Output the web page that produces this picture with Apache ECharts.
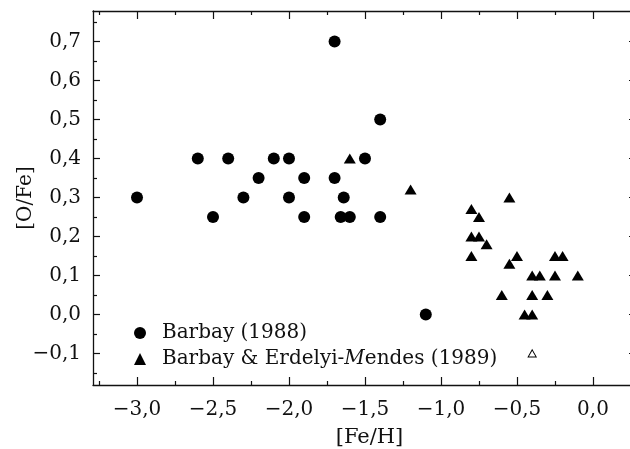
<!DOCTYPE html>
<html>
<head>
<meta charset="utf-8">
<script src="https://cdn.jsdelivr.net/npm/echarts@6/dist/echarts.min.js"></script>
<style>
  html, body { margin: 0; padding: 0; background: #fff; }
  #chart { width: 630px; height: 449px; }
</style>
</head>
<body>
<div id="chart"></div>
<script>
// [O/Fe] versus [Fe/H]
const barbay1988 = [
  [-3.0, 0.30],
  [-2.6, 0.40], [-2.4, 0.40], [-2.1, 0.40], [-2.0, 0.40], [-1.5, 0.40],
  [-2.2, 0.35], [-1.9, 0.35], [-1.7, 0.35],
  [-2.3, 0.30], [-2.0, 0.30], [-1.64, 0.30],
  [-2.5, 0.25], [-1.9, 0.25], [-1.66, 0.25], [-1.6, 0.25], [-1.4, 0.25],
  [-1.7, 0.70], [-1.4, 0.50],
  [-1.1, 0.00]
];

const barbayErdelyi1989 = [
  [-1.6, 0.40], [-1.2, 0.32], [-0.55, 0.30],
  [-0.8, 0.27], [-0.75, 0.25],
  [-0.8, 0.20], [-0.75, 0.20], [-0.7, 0.18],
  [-0.8, 0.15], [-0.5, 0.15], [-0.55, 0.13], [-0.25, 0.15], [-0.2, 0.15],
  [-0.4, 0.10], [-0.35, 0.10], [-0.25, 0.10], [-0.1, 0.10],
  [-0.6, 0.05], [-0.4, 0.05], [-0.3, 0.05],
  [-0.45, 0.00], [-0.4, 0.00]
];

// open (upper-limit style) point of the 1989 sample
const barbayErdelyiOpen = [[-0.4, -0.10]];

const xMajorTicks = [-3.0, -2.5, -2.0, -1.5, -1.0, -0.5, 0.0];
const xMinorTicks = [-3.25, -2.75, -2.25, -1.75, -1.25, -0.75, -0.25, 0.25];
const yMajorTicks = [-0.1, 0.0, 0.1, 0.2, 0.3, 0.4, 0.5, 0.6, 0.7];
const yMinorTicks = [-0.15, -0.05, 0.05, 0.15, 0.25, 0.35, 0.45, 0.55, 0.65, 0.75];

const seriesNames = ['Barbay (1988)', 'Barbay & Erdelyi-Mendes (1989)'];

const X_MIN = -3.2895, X_MAX = 0.283;
const Y_MIN = -0.181, Y_MAX = 0.778;

const FONT = 'DejaVu Serif';
const INK = '#111';

function fmt(v) {
  const s = Math.abs(v).toFixed(1).replace('.', ',');
  return (v < -1e-9 ? '\u2212' : '') + s;
}

function tickAxis(kind, position, values, len, opts) {
  const base = {
    type: 'value',
    position: position,
    min: kind === 'x' ? X_MIN : Y_MIN,
    max: kind === 'x' ? X_MAX : Y_MAX,
    splitLine: { show: false },
    axisLine: { show: !!(opts && opts.line), onZero: false,
                lineStyle: { color: INK, width: 1.3 } },
    axisTick: { show: true, inside: true, length: len, customValues: values,
                lineStyle: { color: INK, width: 1.2 } },
    axisLabel: { show: false },
    silent: true
  };
  return Object.assign(base, opts && opts.extra ? opts.extra : {});
}

const chart = echarts.init(document.getElementById('chart'), null, { renderer: 'canvas' });

const option = {
  backgroundColor: '#fff',
  animation: false,
  grid: { left: 93, top: 11, right: -6, bottom: 64, containLabel: false, outerBoundsMode: 'none' },
  xAxis: [
    tickAxis('x', 'bottom', xMajorTicks, 8, { line: true, extra: {
      name: '[Fe/H]',
      nameLocation: 'middle',
      nameGap: 42,
      nameMoveOverlap: false,
      nameTextStyle: { fontFamily: FONT, fontSize: 21, color: INK, padding: [0, 0, 0, 10] },
      axisLabel: { show: true, customValues: xMajorTicks, margin: 15,
                   fontFamily: FONT, fontSize: 20, color: INK, formatter: fmt }
    } }),
    tickAxis('x', 'bottom', xMinorTicks, 4),
    tickAxis('x', 'top', xMajorTicks, 8, { line: true }),
    tickAxis('x', 'top', xMinorTicks, 4)
  ],
  yAxis: [
    tickAxis('y', 'left', yMajorTicks, 7, { line: true, extra: {
      name: '[O/Fe]',
      nameLocation: 'middle',
      nameRotate: 90,
      nameGap: 57,
      nameMoveOverlap: false,
      nameTextStyle: { fontFamily: FONT, fontSize: 20, color: INK },
      axisLabel: { show: true, customValues: yMajorTicks, margin: 12,
                   fontFamily: FONT, fontSize: 20, color: INK, formatter: fmt }
    } }),
    tickAxis('y', 'left', yMinorTicks, 4),
    tickAxis('y', 'right', yMajorTicks, 7, { line: true }),
    tickAxis('y', 'right', yMinorTicks, 4)
  ],
  legend: {
    orient: 'vertical',
    left: 129,
    top: 318,
    itemWidth: 12,
    itemHeight: 12,
    itemGap: 6,
    data: [
      { name: seriesNames[0], icon: 'circle' },
      { name: seriesNames[1], icon: 'triangle' }
    ],
    formatter: function (name) {
      return name === seriesNames[1] ? 'Barbay & Erdelyi-{i|M}endes (1989)' : name;
    },
    textStyle: {
      fontFamily: FONT, fontSize: 20, color: INK, lineHeight: 20,
      padding: [0, 0, 0, 11],
      rich: { i: { fontFamily: FONT, fontSize: 20, fontStyle: 'italic', color: INK } }
    }
  },
  series: [
    {
      name: seriesNames[0],
      type: 'scatter',
      xAxisIndex: 0, yAxisIndex: 0,
      symbol: 'circle',
      symbolSize: 12,
      itemStyle: { color: '#000', opacity: 1 },
      data: barbay1988
    },
    {
      name: seriesNames[1],
      type: 'scatter',
      xAxisIndex: 0, yAxisIndex: 0,
      symbol: 'triangle',
      symbolSize: [12, 10],
      itemStyle: { color: '#000', opacity: 1 },
      data: barbayErdelyi1989.concat(barbayErdelyiOpen.map(function (p) {
        return {
          value: p,
          symbolSize: [8, 7],
          itemStyle: { color: '#fff', borderColor: '#000', borderWidth: 1 }
        };
      }))
    }
  ]
};

chart.setOption(option);
</script>
</body>
</html>
